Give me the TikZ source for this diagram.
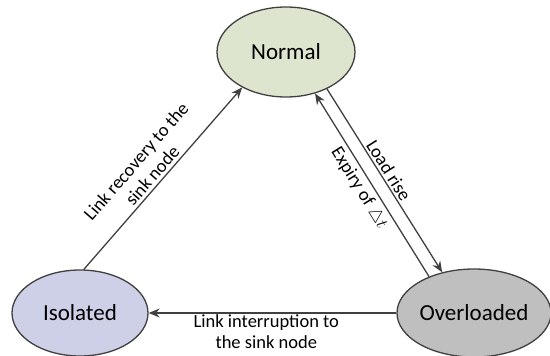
\documentclass[tikz,border=0pt]{standalone}
\usepackage{fontspec}
\setmainfont{Carlito}
\usetikzlibrary{shapes.geometric,arrows.meta}
\definecolor{edgegray}{HTML}{404040}
\definecolor{normalfill}{HTML}{DDE5CE}
\definecolor{isolatedfill}{HTML}{CDD0E6}
\definecolor{overfill}{HTML}{BFBFBF}
\tikzset{
  state/.style={ellipse, draw=edgegray, line width=1.3pt, inner sep=0pt,
    font=\fontsize{23}{27}\selectfont, text=black},
  trans/.style={draw=edgegray, line width=1.3pt,
    -{Stealth[length=11pt,width=9pt]}},
  lbl/.style={font=\fontsize{18.5}{21.5}\selectfont, align=center, text=black}
}
\begin{document}
\begin{tikzpicture}[x=1pt,y=-1pt]
  \useasboundingbox (0,0) rectangle (550,356);
  % the three states
  \node[state, fill=normalfill, minimum width=138pt, minimum height=90pt] (norm) at (286,52) {Normal};
  \node[state, fill=isolatedfill, minimum width=136pt, minimum height=86pt] (iso) at (80,313) {Isolated};
  \node[state, fill=overfill, minimum width=138pt, minimum height=88pt] (over) at (474,313) {Overloaded};
  % transitions
  \draw[trans] (iso.85) -- (norm.219)
    node[lbl, sloped, above, pos=0.48, inner sep=3pt] (lrec) {Link recovery to the\\sink node};
  \draw[trans] (norm.318) -- (over.128)
    node[lbl, sloped, above, pos=0.47, inner sep=2pt] (lrise) {Load rise};
  \draw[trans] (over.141) -- (norm.305)
    node[lbl, sloped, below, pos=0.52, inner sep=4pt] (lexp) {Expiry of $\triangle t$};
  \draw[trans] (over.west) -- (iso.east)
    node[lbl, below, pos=0.525, inner sep=1pt] (lint) {Link interruption to\\the sink node};
\end{tikzpicture}
\end{document}
